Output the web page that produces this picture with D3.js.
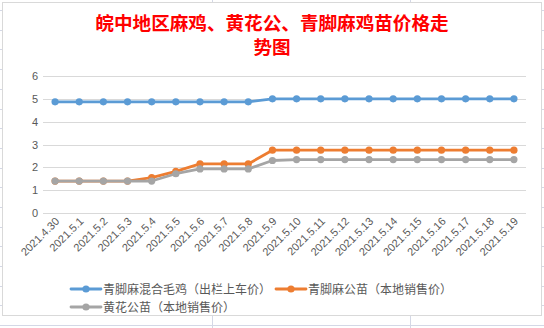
<!DOCTYPE html>
<html><head><meta charset="utf-8">
<script src="https://cdn.jsdelivr.net/npm/d3@7"></script>
<style>body{margin:0;background:#fff}svg{display:block}</style>
</head><body>
<svg id="c" width="544" height="328"></svg>
<script>
const categories = ["2021.4.30","2021.5.1","2021.5.2","2021.5.3","2021.5.4","2021.5.5","2021.5.6","2021.5.7","2021.5.8","2021.5.9","2021.5.10","2021.5.11","2021.5.12","2021.5.13","2021.5.14","2021.5.15","2021.5.16","2021.5.17","2021.5.18","2021.5.19"];
const seriesNames = ["青脚麻混合毛鸡（出栏上车价）","青脚麻公苗（本地销售价）","黄花公苗（本地销售价）"];
const blueValues = [4.87,4.87,4.87,4.87,4.87,4.87,4.87,4.87,4.87,5.0,5.0,5.0,5.0,5.0,5.0,5.0,5.0,5.0,5.0,5.0];
const orangeValues = [1.4,1.4,1.4,1.4,1.55,1.82,2.15,2.15,2.15,2.75,2.75,2.75,2.75,2.75,2.75,2.75,2.75,2.75,2.75,2.75];
const grayValues = [1.4,1.4,1.4,1.4,1.4,1.72,1.93,1.93,1.93,2.3,2.34,2.34,2.34,2.34,2.34,2.34,2.34,2.34,2.34,2.34];
const yTicks = [0,1,2,3,4,5,6];
const titleLines = ["皖中地区麻鸡、黄花公、青脚麻鸡苗价格走","势图"];
const colors = ["#5b9bd5","#ed7d31","#a5a5a5"];
const series = [blueValues, orangeValues, grayValues];

const svg = d3.select("#c");
// spreadsheet background
const sheet = svg.append("g");
for (let y = 10; y < 328; y += 19.7) {
  sheet.append("line").attr("x1",0).attr("x2",544).attr("y1",Math.round(y)+0.5).attr("y2",Math.round(y)+0.5).attr("stroke","#d4d8e6");
}
[212.5, 410.5].forEach(x => sheet.append("line").attr("x1",x).attr("x2",x).attr("y1",0).attr("y2",328).attr("stroke","#d4d8e6"));
// chart area
svg.append("rect").attr("x",2.5).attr("y",2.5).attr("width",539).attr("height",313).attr("fill","#fff").attr("stroke","#d9d9d9");

const x = d3.scaleBand().domain(categories).range([43,526]);
const y = d3.scaleLinear().domain([0,6]).range([213,76]);
const cx = d => x(d) + x.bandwidth()/2;

// gridlines
svg.append("g").selectAll("line").data(yTicks).join("line")
  .attr("x1",43).attr("x2",526)
  .attr("y1",d=>Math.round(y(d))+0.5).attr("y2",d=>Math.round(y(d))+0.5)
  .attr("stroke","#d9d9d9");

// y axis labels
const yAxis = svg.append("g").attr("transform","translate(38,0)")
  .call(d3.axisLeft(y).tickValues(yTicks).tickSize(0).tickPadding(0).tickFormat(d3.format("d")));
yAxis.select(".domain").remove();
yAxis.selectAll("text").attr("fill","#595959").attr("font-size",11).attr("font-family","Liberation Sans, Arial, sans-serif");

// x axis labels
const xAxis = svg.append("g").attr("transform","translate(0,213)")
  .call(d3.axisBottom(x).tickSize(0).tickPadding(0));
xAxis.select(".domain").remove();
xAxis.selectAll("text")
  .attr("fill","#595959").attr("font-size",11).attr("font-family","Liberation Sans, Arial, sans-serif")
  .attr("text-anchor","end").attr("dy",0).attr("y",0)
  .attr("transform","translate(5,9) rotate(-45)");

// lines
const line = d3.line().x((d,i)=>cx(categories[i])).y(d=>y(d));
series.forEach((vals,k)=>{
  const g = svg.append("g");
  g.append("path").datum(vals).attr("d",line).attr("fill","none")
    .attr("stroke",colors[k]).attr("stroke-width",2.8).attr("stroke-linejoin","round").attr("stroke-linecap","round");
  g.selectAll("circle").data(vals).join("circle")
    .attr("cx",(d,i)=>cx(categories[i])).attr("cy",d=>y(d)).attr("r",3.6).attr("fill",colors[k]);
});

// title (two lines)
svg.append("g").selectAll("text").data(titleLines).join("text")
  .attr("text-anchor","middle").attr("x",272).attr("y",(d,i)=>30+i*23.5)
  .attr("fill","#ff0000").attr("font-size",18.6).attr("font-weight","bold")
  .attr("font-family","'DejaVu Sans', 'Noto Sans CJK SC', sans-serif").text(d=>d);

// legend
const legendPos = [[71,289],[276,289],[71,307]];
const lg = svg.append("g");
seriesNames.forEach((name,k)=>{
  const [lx,ly] = legendPos[k];
  lg.append("line").attr("x1",lx).attr("x2",lx+30).attr("y1",ly).attr("y2",ly).attr("stroke",colors[k]).attr("stroke-width",2.8).attr("stroke-linecap","round");
  lg.append("circle").attr("cx",lx+15).attr("cy",ly).attr("r",3.6).attr("fill",colors[k]);
  lg.append("text").attr("x",lx+32).attr("y",ly+4.5).attr("fill","#595959").attr("font-size",12)
    .attr("font-family","'Noto Sans CJK SC', sans-serif").text(name);
});
</script>
</body></html>
